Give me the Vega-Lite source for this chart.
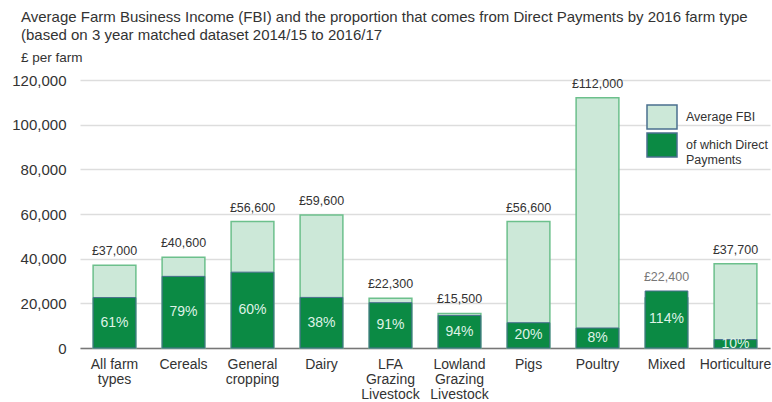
{
  "$schema": "https://vega.github.io/schema/vega-lite/v6.json",
  "width": 690,
  "height": 268,
  "autosize": {"type": "none"},
  "padding": {"left": 80, "top": 80, "right": 2, "bottom": 54},
  "background": "white",
  "config": {
    "font": "Liberation Sans",
    "view": {"stroke": null}
  },
  "title": {
    "text": ["Average Farm Business Income (FBI) and the proportion that comes from Direct Payments by 2016 farm type", "(based on 3 year matched dataset 2014/15 to 2016/17"],
    "subtitle": "£ per farm",
    "anchor": "start",
    "frame": "group",
    "dx": -59,
    "fontSize": 15,
    "fontWeight": "normal",
    "color": "#333333",
    "lineHeight": 18,
    "subtitleFontSize": 13.5,
    "subtitleColor": "#333333",
    "subtitlePadding": 8,
    "offset": 9
  },
  "data": {
    "values": [
      {"farm": "All farm types", "fbi": 37000, "pct": 61, "dp": 22570},
      {"farm": "Cereals", "fbi": 40600, "pct": 79, "dp": 32074},
      {"farm": "General cropping", "fbi": 56600, "pct": 60, "dp": 33960},
      {"farm": "Dairy", "fbi": 59600, "pct": 38, "dp": 22648},
      {"farm": "LFA Grazing Livestock", "fbi": 22300, "pct": 91, "dp": 20293},
      {"farm": "Lowland Grazing Livestock", "fbi": 15500, "pct": 94, "dp": 14570},
      {"farm": "Pigs", "fbi": 56600, "pct": 20, "dp": 11320},
      {"farm": "Poultry", "fbi": 112000, "pct": 8, "dp": 8960},
      {"farm": "Mixed", "fbi": 22400, "pct": 114, "dp": 25536},
      {"farm": "Horticulture", "fbi": 37700, "pct": 10, "dp": 3770}
    ]
  },
  "transform": [
    {"calculate": "max(datum.fbi, datum.dp)", "as": "top"},
    {"calculate": "datum.dp / 2", "as": "mid"},
    {"calculate": "'£' + format(datum.fbi, ',')", "as": "fbiLabel"},
    {"calculate": "datum.pct + '%'", "as": "pctLabel"}
  ],
  "encoding": {
    "x": {
      "field": "farm",
      "type": "nominal",
      "sort": null,
      "scale": {"paddingInner": 0.38, "paddingOuter": 0.19},
      "axis": {
        "title": null,
        "labelAngle": 0,
        "labelFontSize": 14,
        "labelColor": "#333333",
        "labelPadding": 9,
        "labelLineHeight": 15,
        "labelBaseline": "top",
        "labelOverlap": false,
        "ticks": false,
        "domainColor": "#777777",
        "domainWidth": 1.5,
        "labelExpr": "datum.label == 'All farm types' ? ['All farm', 'types'] : datum.label == 'General cropping' ? ['General', 'cropping'] : datum.label == 'LFA Grazing Livestock' ? ['LFA', 'Grazing', 'Livestock'] : datum.label == 'Lowland Grazing Livestock' ? ['Lowland', 'Grazing', 'Livestock'] : datum.label"
      }
    }
  },
  "layer": [
    {
      "mark": {"type": "bar", "stroke": "#6cc08c", "strokeWidth": 1.5},
      "encoding": {
        "y": {
          "field": "fbi",
          "type": "quantitative",
          "scale": {"domain": [0, 120000], "nice": false},
          "axis": {
            "title": null,
            "values": [0, 20000, 40000, 60000, 80000, 100000, 120000],
            "format": ",.0f",
            "labelOverlap": false,
            "labelFontSize": 15,
            "labelColor": "#333333",
            "labelPadding": 14,
            "ticks": false,
            "domain": false,
            "gridColor": "#dddddd",
            "gridWidth": 1.5
          }
        },
        "color": {
          "datum": "Average FBI",
          "type": "nominal",
          "scale": {"domain": ["Average FBI", "of which Direct Payments"], "range": ["#cce8d8", "#0b8a44"]},
          "legend": {
            "title": null,
            "orient": "none",
            "legendX": 569,
            "legendY": 24,
            "padding": 0,
            "rowPadding": -12,
            "symbolType": "M-1.25,-1H1.25V1H-1.25Z",
            "symbolSize": 576,
            "symbolStrokeColor": "#4a6f8f",
            "symbolStrokeWidth": 1.5,
            "symbolOpacity": 1,
            "labelFontSize": 12.5,
            "labelColor": "#333333",
            "labelOffset": 11,
            "labelLimit": 200,
            "labelExpr": "datum.label == 'of which Direct Payments' ? ['of which Direct', 'Payments'] : datum.label"
          }
        }
      }
    },
    {
      "mark": {"type": "bar", "stroke": "#4a6f8f", "strokeWidth": 1},
      "encoding": {
        "y": {"field": "dp", "type": "quantitative"},
        "color": {"datum": "of which Direct Payments", "type": "nominal"}
      }
    },
    {
      "mark": {"type": "text", "baseline": "bottom", "dy": -7, "fontSize": 12.5},
      "encoding": {
        "y": {"field": "top", "type": "quantitative"},
        "text": {"field": "fbiLabel"},
        "color": {
          "condition": {"test": "datum.farm == 'Mixed'", "value": "#777777"},
          "value": "#333333"
        }
      }
    },
    {
      "mark": {"type": "text", "baseline": "middle", "fontSize": 14, "color": "#dff2e6"},
      "encoding": {
        "y": {"field": "mid", "type": "quantitative"},
        "text": {"field": "pctLabel"}
      }
    }
  ]
}
